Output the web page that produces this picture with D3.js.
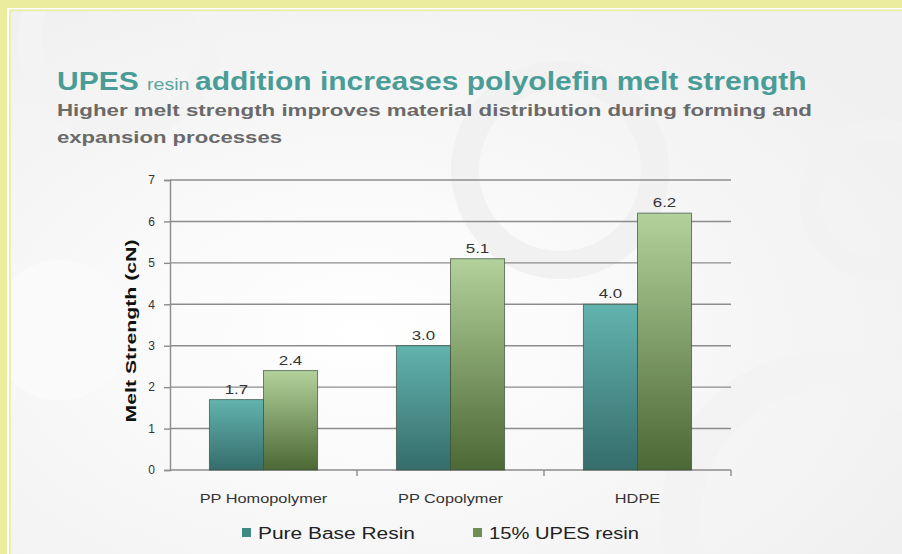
<!DOCTYPE html>
<html>
<head>
<meta charset="utf-8">
<script src="https://cdn.jsdelivr.net/npm/d3@7"></script>
<style>
  html, body { margin: 0; padding: 0; background: #ffffff; }
  svg { display: block; font-family: Arial, "Liberation Sans", sans-serif; }
</style>
</head>
<body>
<div id="Canvas"></div>
<script>
// data
const categories = ["PP Homopolymer", "PP Copolymer", "HDPE"]
const seriesNames = ["Pure Base Resin", "15% UPES resin"]
const pureBase = [1.7, 3.0, 4.0]
const upes15 = [2.4, 5.1, 6.2]
const yTicks = [0, 1, 2, 3, 4, 5, 6, 7]

const W = 902, H = 554
const svg = d3.select("#Canvas").append("svg")
    .attr("width", W)
    .attr("height", H)

// gradients for the bars
const defs = svg.append("defs")
function grad(id, c1, c2){
    let g = defs.append("linearGradient").attr("id", id)
        .attr("x1", 0).attr("y1", 0).attr("x2", 0).attr("y2", 1)
    g.append("stop").attr("offset", "0%").attr("stop-color", c1)
    g.append("stop").attr("offset", "100%").attr("stop-color", c2)
}
grad("gTeal", "#62b3ae", "#356d6b")
grad("gGreen", "#b3d29b", "#4b6835")
let bg = defs.append("radialGradient").attr("id", "gBg")
    .attr("cx", "40%").attr("cy", "60%").attr("r", "70%")
bg.append("stop").attr("offset", "0%").attr("stop-color", "#ffffff")
bg.append("stop").attr("offset", "100%").attr("stop-color", "#f0f0f0")

// background + faint decorative rings
svg.append("rect").attr("width", W).attr("height", H).attr("fill", "url(#gBg)")
const deco = svg.append("g").attr("fill", "none")
deco.append("circle").attr("cx", 830).attr("cy", 520).attr("r", 150).attr("stroke", "#f3f3f3").attr("stroke-width", 40)
deco.append("circle").attr("cx", 560).attr("cy", 170).attr("r", 95).attr("stroke", "#f1f1f1").attr("stroke-width", 28)
deco.append("circle").attr("cx", 880).attr("cy", 200).attr("r", 70).attr("stroke", "#f2f2f2").attr("stroke-width", 22)
deco.append("circle").attr("cx", 120).attr("cy", 40).attr("r", 90).attr("stroke", "#f3f3f3").attr("stroke-width", 24)
deco.append("circle").attr("cx", 60).attr("cy", 330).attr("r", 70).attr("fill", "#fafafa").attr("stroke", "none")

// yellow frame
const frame = "#ecec9f"
svg.append("rect").attr("x", 0).attr("y", 0).attr("width", W).attr("height", 8).attr("fill", frame)
svg.append("rect").attr("x", 0).attr("y", 0).attr("width", 7).attr("height", H).attr("fill", frame)
svg.append("rect").attr("x", 7).attr("y", 8).attr("width", W).attr("height", 1.5).attr("fill", "#ffffff")
svg.append("rect").attr("x", 7).attr("y", 8).attr("width", 2).attr("height", H).attr("fill", "#ffffff")
svg.append("rect").attr("x", 9).attr("y", 9.5).attr("width", W).attr("height", 1.6).attr("fill", frame)
svg.append("rect").attr("x", 9).attr("y", 9.5).attr("width", 1.8).attr("height", H).attr("fill", frame)

// stretch a text horizontally to a given width
function fitText(sel, w){
    sel.attr("textLength", w).attr("lengthAdjust", "spacingAndGlyphs")
}
function stretch(sel, k){
    sel.each(function(){
        let len = this.getComputedTextLength()
        d3.select(this).attr("textLength", len * k).attr("lengthAdjust", "spacingAndGlyphs")
    })
}

// title
let title = svg.append("text").attr("fill", "#4a9c97").attr("font-weight", "bold")
    .attr("font-size", 26)
title.append("tspan").text("UPES ")
title.append("tspan").attr("font-size", 17).attr("font-weight", "normal").attr("fill", "#5aa49f").text("resin ")
title.append("tspan").text("addition increases polyolefin melt strength")
let tw = title.node().getBBox().width
title.attr("transform", `translate(57,90) scale(${750 / tw},1)`)

let sub1 = svg.append("text").attr("x", 57).attr("y", 116)
    .attr("fill", "#6a6a6a").attr("font-weight", "bold").attr("font-size", 17)
    .text("Higher melt strength improves material distribution during forming and")
fitText(sub1, 755)
let sub2 = svg.append("text").attr("x", 57).attr("y", 143)
    .attr("fill", "#6a6a6a").attr("font-weight", "bold").attr("font-size", 17)
    .text("expansion processes")
fitText(sub2, 225)

// chart
const plotLeft = 170, plotRight = 731, plotTop = 180, plotBottom = 470
const yScale = d3.scaleLinear().domain([0, 7]).range([plotBottom, plotTop])
const x0 = d3.scaleBand().domain(categories).range([plotLeft, plotRight]).padding(0)
const x1 = d3.scaleBand().domain(seriesNames).range([0, x0.bandwidth()]).paddingInner(0).paddingOuter(0.73)

const gridColor = "#8c8c8c"
// grid lines
svg.append("g").selectAll("line")
    .data(yTicks.filter(d => d > 0))
    .enter().append("line")
    .attr("x1", plotLeft).attr("x2", plotRight)
    .attr("y1", d => yScale(d)).attr("y2", d => yScale(d))
    .attr("stroke", gridColor).attr("stroke-width", 1.4)

// y axis
let yAxis = svg.append("g").attr("transform", `translate(${plotLeft},0)`)
    .call(d3.axisLeft(yScale).tickValues(yTicks).tickSize(6).tickPadding(9).tickFormat(d3.format("d")))
yAxis.select(".domain").attr("stroke", gridColor).attr("stroke-width", 1.4)
yAxis.selectAll(".tick line").attr("stroke", gridColor).attr("stroke-width", 1.4)
yAxis.selectAll(".tick text").attr("fill", "#333").attr("font-size", 12).attr("font-family", "Arial, 'Liberation Sans', sans-serif")

// x axis (ticks on category boundaries)
svg.append("line").attr("x1", plotLeft).attr("x2", plotRight).attr("y1", plotBottom).attr("y2", plotBottom)
    .attr("stroke", gridColor).attr("stroke-width", 1.4)
svg.append("g").selectAll("line")
    .data(categories)
    .enter().append("line")
    .attr("x1", d => x0(d) + x0.bandwidth()).attr("x2", d => x0(d) + x0.bandwidth())
    .attr("y1", plotBottom).attr("y2", plotBottom + 6)
    .attr("stroke", gridColor).attr("stroke-width", 1.4)
let catLabels = svg.append("g").selectAll("text")
    .data(categories)
    .enter().append("text")
    .attr("x", d => x0(d) + x0.bandwidth() / 2)
    .attr("y", 503)
    .attr("text-anchor", "middle")
    .attr("fill", "#333").attr("font-size", 12)
    .text(d => d)
stretch(catLabels, 1.36)

// bars
let barData = []
categories.forEach((c, i) => {
    barData.push({cat: c, s: seriesNames[0], v: pureBase[i], fill: "url(#gTeal)"})
    barData.push({cat: c, s: seriesNames[1], v: upes15[i], fill: "url(#gGreen)"})
})
svg.append("g").selectAll("rect")
    .data(barData)
    .enter().append("rect")
    .attr("x", d => x0(d.cat) + x1(d.s))
    .attr("y", d => yScale(d.v))
    .attr("width", x1.bandwidth())
    .attr("height", d => yScale(0) - yScale(d.v))
    .attr("fill", d => d.fill)
    .attr("stroke", "#3b4f3c").attr("stroke-opacity", 0.7).attr("stroke-width", 1)

// value labels
let valLabels = svg.append("g").selectAll("text")
    .data(barData)
    .enter().append("text")
    .attr("x", d => x0(d.cat) + x1(d.s) + x1.bandwidth() / 2)
    .attr("y", d => yScale(d.v) - 6)
    .attr("text-anchor", "middle")
    .attr("fill", "#333").attr("font-size", 13)
    .text(d => d3.format(".1f")(d.v))
stretch(valLabels, 1.3)

// y title
let yTitle = svg.append("text")
    .attr("transform", "translate(136,331) rotate(-90)")
    .attr("text-anchor", "middle")
    .attr("font-weight", "bold").attr("font-size", 14).attr("fill", "#111")
    .text("Melt Strength (cN)")
fitText(yTitle, 183)

// legend
const legendX = [242, 473]
const legendColors = ["#3f8985", "#6e8e55"]
const legendW = [157, 150]
let lg = svg.append("g").selectAll("g")
    .data(seriesNames)
    .enter().append("g")
lg.append("rect")
    .attr("x", (d, i) => legendX[i]).attr("y", 528)
    .attr("width", 9).attr("height", 9)
    .attr("fill", (d, i) => legendColors[i])
lg.append("text")
    .attr("x", (d, i) => legendX[i] + 16).attr("y", 539)
    .attr("font-size", 16).attr("fill", "#222")
    .text(d => d)
    .each(function(d, i){ fitText(d3.select(this), legendW[i]) })
</script>
</body>
</html>
